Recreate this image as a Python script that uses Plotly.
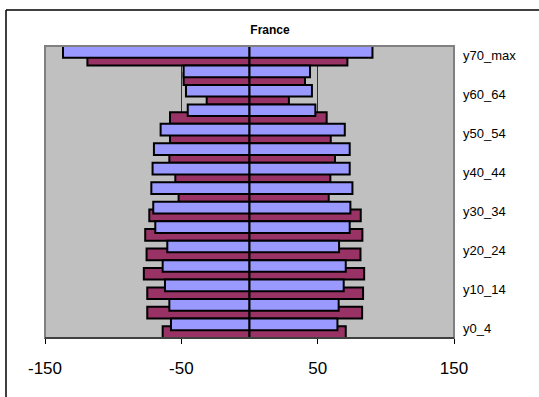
import plotly.graph_objects as go

# age groups, bottom to top
groups = ['y0_4', 'y5_9', 'y10_14', 'y15_19', 'y20_24', 'y25_29', 'y30_34', 'y35_39',
          'y40_44', 'y45_49', 'y50_54', 'y55_59', 'y60_64', 'y65_69', 'y70_max']
shown_labels = ['y0_4', 'y10_14', 'y20_24', 'y30_34', 'y40_44', 'y50_54', 'y60_64', 'y70_max']
x_ticks = [-150, -50, 50, 150]
x_ticktext = ['-150', '-50', '50', '150']

blue_left = [-57.6, -58.8, -62.0, -63.7, -60.3, -69.1, -70.6, -72.0, -71.1, -70.1, -65.2, -45.3, -46.6, -48.3, -136.8]
blue_right = [64.5, 65.4, 69.1, 70.6, 65.7, 73.5, 74.0, 75.5, 73.5, 73.5, 69.9, 48.3, 45.8, 44.4, 90.2]
maroon_left = [-63.7, -75.0, -75.0, -77.5, -75.5, -76.5, -73.5, -52.0, -54.4, -58.8, -58.3, -58.3, -31.4, -48.3, -118.9]
maroon_right = [70.6, 82.6, 83.3, 84.1, 81.4, 82.8, 81.6, 58.1, 59.3, 62.7, 59.6, 56.6, 28.9, 40.7, 71.8]

BLUE = '#9999FF'
MAROON = '#993366'
FONT = 'Arial, Liberation Sans, sans-serif'

fig = go.Figure()
# maroon first so the blue bars sit on top of them
for vals in (maroon_left, maroon_right):
    fig.add_trace(go.Bar(x=vals, y=groups, orientation='h', width=0.6, offset=-0.5,
                         marker=dict(color=MAROON, line=dict(color='black', width=2)),
                         showlegend=False, hoverinfo='skip'))
for vals in (blue_left, blue_right):
    fig.add_trace(go.Bar(x=vals, y=groups, orientation='h', width=0.6, offset=-0.1,
                         marker=dict(color=BLUE, line=dict(color='black', width=2)),
                         showlegend=False, hoverinfo='skip'))

L, R, T, B = 45, 454, 46, 338
pw, ph = R - L, B - T
fx = (6 - L) / pw      # chart frame, left edge
fy = (B - 10) / ph     # chart frame, top edge

fig.update_layout(
    width=539, height=397,
    margin=dict(l=L, r=539 - R, t=T, b=397 - B, autoexpand=False),
    barmode='overlay',
    paper_bgcolor='white', plot_bgcolor='#C0C0C0',
    font=dict(family=FONT, color='black'),
    title=dict(text='<b>France</b>', x=270 / 539, xanchor='center',
               y=1 - 30 / 397, yanchor='middle', font=dict(size=12)),
    xaxis=dict(range=[-150, 150], tickmode='array', tickvals=x_ticks, ticktext=x_ticktext,
               showgrid=True, gridcolor='#303030', gridwidth=1, zeroline=True,
               zerolinecolor='black', zerolinewidth=2, ticks='outside', ticklen=5,
               tickcolor='black', showline=True, linecolor='black', linewidth=1,
               tickfont=dict(size=17), ticklabelstandoff=10, automargin=False),
    yaxis=dict(categoryorder='array', categoryarray=groups, range=[-0.5, 14.5],
               side='right', tickmode='array', tickvals=shown_labels, ticktext=shown_labels,
               showgrid=False, zeroline=False, ticks='', tickfont=dict(size=13),
               ticklabelstandoff=8, automargin=False),
    shapes=[
        dict(type='rect', xref='paper', yref='paper', x0=0, x1=1, y0=0, y1=1,
             line=dict(color='#808080', width=2), layer='above'),
        dict(type='line', xref='paper', yref='paper', x0=0, x1=1, y0=0, y1=0,
             line=dict(color='black', width=1), layer='above'),
        dict(type='line', xref='paper', yref='paper', x0=fx, x1=fx, y0=-0.3, y1=fy,
             line=dict(color='black', width=1.5), layer='above'),
        dict(type='line', xref='paper', yref='paper', x0=fx, x1=1.3, y0=fy, y1=fy,
             line=dict(color='black', width=1.5), layer='above'),
    ],
)

# page body has a default margin; drop it so the figure sits at the window corner
fig.write_html('out.html', config={'displayModeBar': False},
               post_script="document.body.style.margin='0';")
